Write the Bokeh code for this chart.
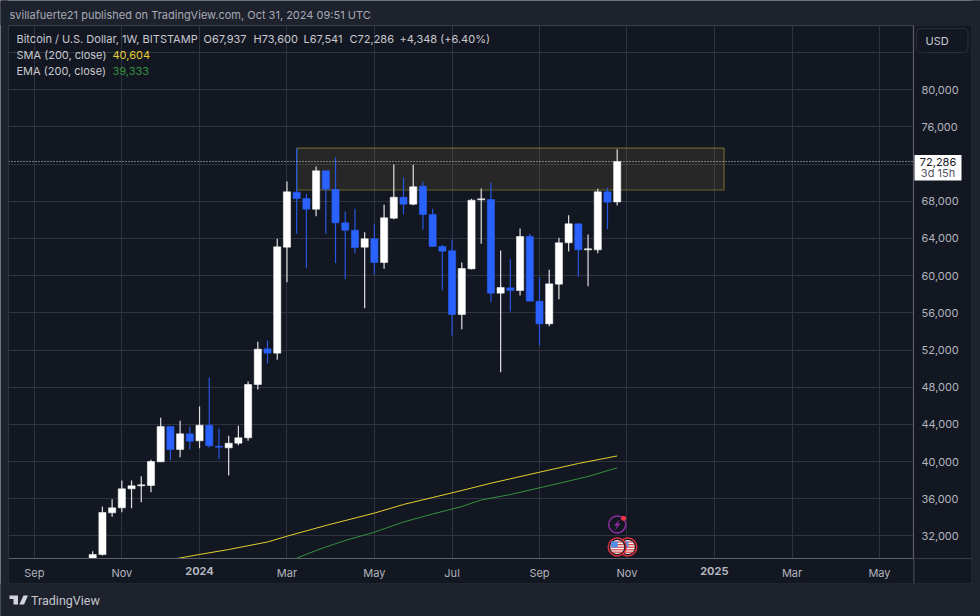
import math
import pandas as pd
from bokeh.plotting import figure
from bokeh.embed import file_html
from bokeh.resources import INLINE
from bokeh.core.properties import value
from bokeh.models import ColumnDataSource, FixedTicker, Range1d, Span

# ---------- data ----------
first_week = "2023-10-16"
opens = [29500,29996,34480,35018,37063,37386,37421,39968,43770,41295,42981,42228,43914,41654,41475,41977,42551,48290,52128,51662,
         63067,68985,68304,67156,71281,69272,65685,64896,63067,63963,61417,66187,68447,67694,69631,66582,63138,62672,55821,60735,
         68160,68196,58117,58691,58404,64214,57256,54817,59085,63533,65578,62780,62780,69021,67937]
closes = [30000,34516,35018,37063,37386,37494,40004,43770,41295,42981,42192,43914,41690,41547,41977,42551,48290,52092,51662,63102,
          69021,68304,67156,71281,69308,65685,64896,63031,63963,61417,66223,68447,67694,69559,66582,63138,62636,55821,60771,68124,
          68268,58117,58727,58404,64214,57256,54817,59121,63533,65578,62780,62887,69021,67909,72286]
highs = [30355,35161,35950,37960,37960,38426,40184,44703,43770,44380,43770,45923,49043,43555,42766,43842,48613,52882,53025,63963,
         70133,73720,68806,71747,71281,72752,66905,67192,64681,65506,67622,71962,70563,71927,70133,67192,63318,63856,61417,68268,
         69380,69990,62708,61775,65076,64501,59838,60628,64071,66510,65578,64430,69344,69451,73600]
lows = [28800,29889,34050,34552,34983,35628,36704,39968,40148,40470,41295,41439,41511,40255,38498,41762,42228,47752,50550,50944,
        59300,64501,60807,66403,64501,61345,59623,62421,56503,60125,60735,66080,66618,67586,64932,63138,58439,53561,54243,60663,
        63426,57148,49615,56144,57866,57256,52485,54566,57471,62600,59874,58870,62421,65004,67541]
sma_weeks = [8,11,14,18,20,24,29,32,35,38,41,46,50,54]
sma_values = [29440,30000,30535,31345,31967,33120,34453,35380,36130,36885,37670,38855,39790,40604]
ema_weeks = [21,23,24,26,29,32,35,38,40,43,46,51,54]
ema_values = [29600,30430,30805,31505,32400,33495,34355,35160,35860,36450,37175,38390,39333]
zone_start, zone_end, zone_top, zone_bottom = "2024-03-11", "2025-01-13", 73716, 69218
month_ticks = {"2023-09-04":"Sep","2023-11-06":"Nov","2024-03-04":"Mar","2024-05-06":"May","2024-07-01":"Jul",
               "2024-09-02":"Sep","2024-11-04":"Nov","2025-03-03":"Mar","2025-05-05":"May"}
year_ticks = {"2024-01-01":"2024","2025-01-06":"2025"}
price_ticks = list(range(32000, 84000, 4000))
grid_prices = list(range(32000, 88000, 4000))
last_close = closes[-1]

# ---------- colours / helpers ----------
BG, OUTER, GRID = "#131722", "#1e222d", "#2a2e39"
TXT, TXT2 = "#b2b5be", "#c8cad0"
BLUE, WHITE = "#2962ff", "#ffffff"
FONT = "Inter"
WEEK = 7*86400000
def ms(d): return int(pd.Timestamp(d).value // 1000000)
last_bar = ms("2024-10-28")
def xd(px): return last_bar + (px-616.7)/9.713*WEEK      # page px -> data
def yd(py): return 80000 - (py-89.3)*107.6

weeks = pd.date_range(first_week, periods=len(opens), freq="7D")
xs = [ms(w) for w in weeks]
up = [c >= o for o, c in zip(opens, closes)]

p = figure(width=980, height=616, output_backend="svg", toolbar_location=None,
           x_range=Range1d(xd(8), xd(913)), y_range=Range1d(yd(558), yd(25)),
           y_axis_location="right", min_border_left=8, min_border_top=25,
           min_border_right=67, min_border_bottom=58,
           background_fill_color=BG, border_fill_color=BG, outline_line_color=None)

# axes
ax = p.xaxis[0]
ax.ticker = FixedTicker(ticks=[ms(k) for k in month_ticks])
ax.major_label_overrides = {ms(k): v for k, v in month_ticks.items()}
ay = p.yaxis[0]
ay.ticker = FixedTicker(ticks=price_ticks)
ay.major_label_overrides = {v: f"{v:,}" for v in price_ticks}
for a in (ax, ay):
    a.major_tick_line_color = None
    a.minor_tick_line_color = None
    a.major_tick_out = 0
    a.major_tick_in = 0
    a.axis_line_color = "#5d606b"
    a.axis_line_width = 1.2
    a.major_label_text_color = TXT
    a.major_label_text_font = FONT
    a.major_label_text_font_size = "11px"
ax.major_label_standoff = 7
ay.major_label_standoff = 8

p.xgrid.ticker = FixedTicker(ticks=[ms(k) for k in list(month_ticks)+list(year_ticks)])
p.ygrid.ticker = FixedTicker(ticks=grid_prices)
for g in (p.xgrid, p.ygrid):
    g.grid_line_color = "#2f333f"
    g.grid_line_width = 1

# zone
p.quad(left=[ms(zone_start)], right=[ms(zone_end)], top=[zone_top], bottom=[zone_bottom],
       fill_color="#b39c4a", fill_alpha=0.12, line_color="#6a652c", line_width=1.2)

# moving averages
p.line([xs[i] for i in sma_weeks], sma_values, line_color="#e6cf2e", line_width=1)
p.line([xs[i] for i in ema_weeks], ema_values, line_color="#34913f", line_width=1)

# candles
src = ColumnDataSource(dict(x=xs, o=opens, c=closes, h=highs, l=lows,
                            color=[WHITE if u else BLUE for u in up],
                            wick=[("#e0e0e0" if u else "#2558e0") for u in up]))
p.segment("x", "h", "x", "l", source=src, line_color="wick", line_width=1.2)
p.vbar(x="x", top="o", bottom="c", width=WEEK*0.74, source=src, fill_color="color", line_color="color", line_width=0.5)

p.add_layout(Span(location=last_close, dimension="width", line_color="#d1d4dc", line_dash="1 2", line_width=1))

# outer strips of the page and panel edges
def box(l, r, t, b, fill, line=None, radius=0):
    p.quad(left=[xd(l)], right=[xd(r)], top=[yd(t)], bottom=[yd(b)], fill_color=fill, line_color=line,
           line_width=1, border_radius=radius, level="overlay")
def txt(x, y, s, color=TXT2, size="11px", style="normal", align="left", raw_x=None, font=FONT):
    p.text(x=[raw_x if raw_x is not None else xd(x)], y=[yd(y)], text=[s], text_color=color, text_font=value(font),
           text_font_size=value(size), text_font_style=style, text_baseline="middle", text_align=align, level="overlay")

box(0, 980, 0, 24.5, OUTER)
box(0, 980, 583, 616, OUTER)
box(0, 8, 0, 616, OUTER)
box(971, 980, 0, 616, OUTER)
box(8, 971, 24.5, 25, GRID)
box(8, 971, 582.5, 583, GRID)
box(8, 8.5, 25, 583, GRID)
box(970.5, 971, 25, 583, GRID)
box(913, 913.8, 558, 583, "#5d606b")
box(913, 971, 557.6, 558.4, "#3a3d48")

# year labels on the time axis (bold)
for k, v in year_ticks.items():
    txt(0, 570.5, v, TXT, "11px", "bold", "center", raw_x=ms(k))

# price tag + USD button
box(914, 961, 154.5, 180, WHITE)
txt(937.5, 161, "72,286", "#131722", "11px", align="center")
txt(937.5, 172.5, "3d 15h", "#50535e", "11px", align="center")
box(916, 967.5, 28, 52, BG, GRID, 4)
txt(925, 40, "USD", TXT2, "11px")

# header texts
txt(9, 14.5, "svillafuerte21 published on TradingView.com, Oct 31, 2024 09:51 UTC", "#a8abb5", "11px")
txt(16, 38.5, "Bitcoin / U.S. Dollar, 1W, BITSTAMP")
for x_, s_ in [(203, "O67,937"), (253, "H73,600"), (303, "L67,541"), (349, "C72,286"), (399, "+4,348 (+6.40%)")]:
    txt(x_, 38.5, s_)
txt(16, 54.5, "SMA (200, close)")
txt(112, 54.5, "40,604", "#e6cf2e")
txt(16, 70, "EMA (200, close)")
txt(112, 70, "39,333", "#34913f")

# footer logo and name
TVC = "#d1d4dc"
for poly in ([(9,595),(17.5,595),(17.5,604),(13,604),(13,598.5),(9,598.5)],
             [(23,595),(27.5,595),(23.5,604),(18.8,604)]):
    p.patch([xd(a) for a, _ in poly], [yd(b) for _, b in poly], fill_color=TVC, line_color=None, level="overlay")
p.scatter([xd(20.3)], [yd(597)], size=4, fill_color=TVC, line_color=None, level="overlay")
txt(30.5, 600, "TradingView", "#c4c6cc", "12.5px", font="Roboto")

# event icons
p.scatter([xd(616.7)], [yd(524)], size=17, fill_color=None, line_color="#8e2fa6", line_width=1.4, level="overlay")
bolt = [(619.5,518.5),(613.5,525),(616.5,525),(614.5,530),(620,523),(617,523)]
p.patch([xd(a) for a, _ in bolt], [yd(b) for _, b in bolt], fill_color="#8e2fa6", line_color=None, level="overlay")
p.scatter([xd(623)], [yd(517.7)], size=5, fill_color="#f23645", line_color=None, level="overlay")
for cx in (627.3, 616.7):
    cy = 546.5
    p.scatter([xd(cx)], [yd(cy)], size=18, fill_color=BG, line_color="#e0313f", line_width=1.4, level="overlay")
    p.scatter([xd(cx)], [yd(cy)], size=14, fill_color="#f4f4f4", line_color=None, level="overlay")
    for dy in (-5, -2.4, 0.2, 2.8, 5.2):
        hw = math.sqrt(max(49-dy*dy, 0))
        p.segment([xd(cx-hw)], [yd(cy+dy)], [xd(cx+hw)], [yd(cy+dy)], line_color="#e0403f", line_width=1.2, level="overlay")
    p.quad(left=[xd(cx-6)], right=[xd(cx+0.5)], top=[yd(cy-5.5)], bottom=[yd(cy+0.5)],
           fill_color="#4f8fe8", line_color=None, level="overlay")

open("out.html", "w").write(file_html(p, INLINE))
